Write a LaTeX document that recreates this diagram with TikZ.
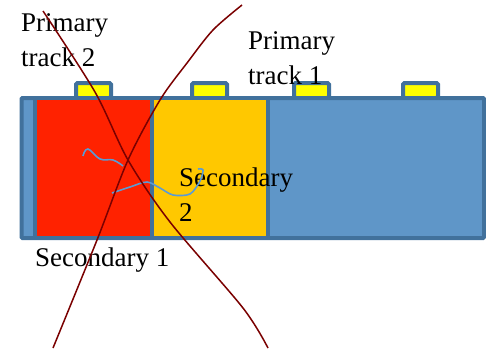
\documentclass[tikz,border=0pt]{standalone}
\usepackage{fontspec}
\setmainfont{Liberation Serif}
\definecolor{trackedge}{RGB}{65,113,156}
\definecolor{trackblue}{RGB}{95,150,200}
\definecolor{secred}{RGB}{255,34,0}
\definecolor{secorange}{RGB}{255,200,0}
\definecolor{tabyellow}{RGB}{255,255,0}
\definecolor{crossred}{RGB}{122,0,0}
\definecolor{wiggle}{RGB}{91,155,213}

\begin{document}
\begin{tikzpicture}[x=1pt, y=-1pt,
    cell/.style={draw=trackedge, line width=4pt},
    label/.style={font=\fontsize{27}{35}\selectfont, align=left, anchor=north west, inner sep=0pt},
    cross/.style={crossred, line width=1.5pt},
    squiggle/.style={wiggle, line width=1.6pt}]
    \useasboundingbox (0,0) rectangle (486,349);

    % Tabs on top of the track
    \foreach \c in {93.5,209.5,311.5,420.5}
        \draw[cell, fill=tabyellow, rounded corners=1.5pt] (\c-17.5,98) rectangle (\c+17.5,83);

    % Track body and the two secondaries
    \draw[cell, fill=trackblue, rounded corners=1pt] (21.5,98) rectangle (484,238);
    \draw[cell, fill=secred] (35,98) rectangle (152,238);
    \draw[cell, fill=secorange] (152,98) rectangle (267.5,238);

    % Labels
    \node[label] (prim2) at (21,13) {Primary\\track 2};
    \node[label] (prim1) at (248,31) {Primary\\track 1};
    \node[label] (sec2) at (179,168) {Secondary\\2};
    \node[label] (sec1) at (35,248) {Secondary 1};

    % Wiggles
    \draw[squiggle] plot[smooth, tension=0.7] coordinates {(83,156) (88,149) (100,159) (113,160) (123,166)};
    \draw[squiggle] plot[smooth] coordinates {(112,193) (130,187) (147,182) (160,188) (173,195) (190,194) (200,181) (203,170) (198,169)};

    % Crossing out
    \draw[cross] plot[smooth] coordinates {(43,11) (95,92) (128,160) (170,222) (243,308) (268,348)};
    \draw[cross] plot[smooth] coordinates {(242,5) (213,30) (187,63) (160,100) (128,160) (97,240) (53,348)};
\end{tikzpicture}
\end{document}
